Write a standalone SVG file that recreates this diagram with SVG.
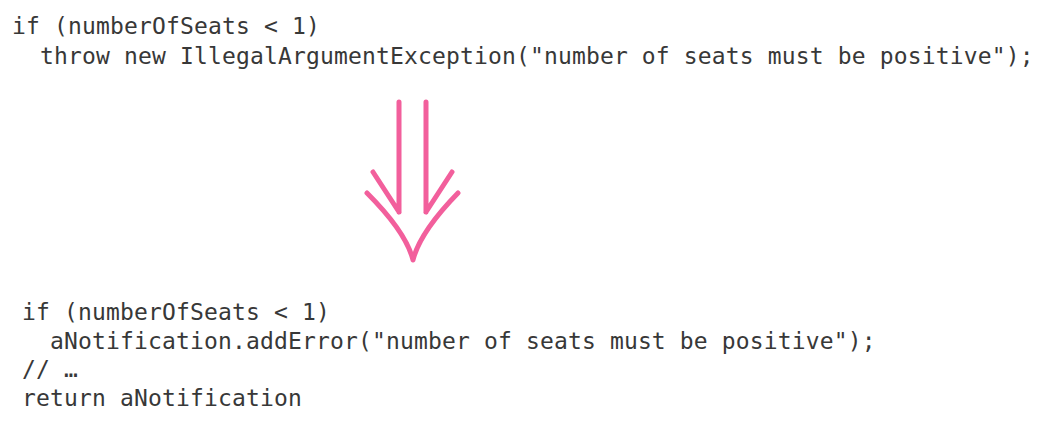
<svg xmlns="http://www.w3.org/2000/svg" width="1042" height="426" viewBox="0 0 1042 426">
<style>
.code{font-family:"DejaVu Sans Mono","Liberation Mono",monospace;font-size:23px;letter-spacing:0.15px;fill:#383838;white-space:pre}
.arr{fill:none;stroke:#f25f9c;stroke-width:5;stroke-linecap:round;stroke-linejoin:round}
</style>
<rect width="1042" height="426" fill="#ffffff"/>
<g id="before">
<text class="code" x="12" y="34" xml:space="preserve">if (numberOfSeats &lt; 1)</text>
<text class="code" x="12" y="64" xml:space="preserve">  throw new IllegalArgumentException("number of seats must be positive");</text>
</g>
<g id="connectors">
<path class="arr" d="M399,102 V212 M426,102 V212 M373,172 L399,212 M452,172 L426,212"/>
<path class="arr" d="M367,193 Q406,232 413,260 M458,193 Q420,232 413,260"/>
</g>
<g id="after">
<text class="code" x="22" y="320" xml:space="preserve">if (numberOfSeats &lt; 1)</text>
<text class="code" x="22" y="349" xml:space="preserve">  aNotification.addError("number of seats must be positive");</text>
<text class="code" x="22" y="377" xml:space="preserve">// …</text>
<text class="code" x="22" y="406" xml:space="preserve">return aNotification</text>
</g>
</svg>
